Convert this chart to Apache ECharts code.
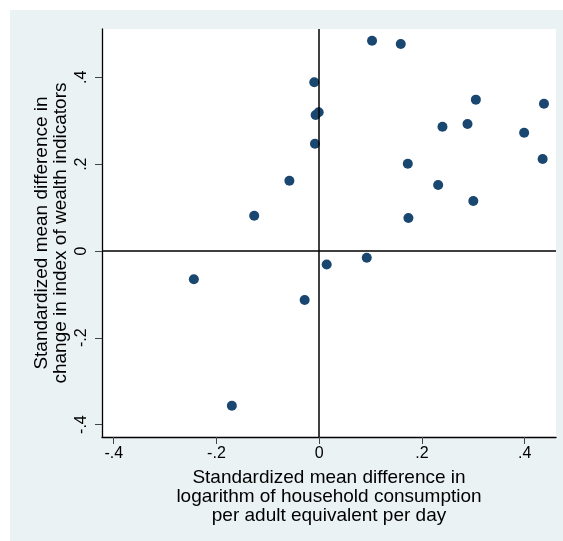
<!DOCTYPE html>
<html>
<head>
<meta charset="utf-8">
<script src="https://cdn.jsdelivr.net/npm/echarts@6/dist/echarts.min.js"></script>
<style>
html,body{margin:0;padding:0;background:#ffffff;}
#chart{width:563px;height:541px;}
</style>
</head>
<body>
<div id="chart"></div>
<script>
// Data
var xValues = [-0.0096, -0.0069, -0.0010, -0.0082, -0.0580, -0.1265, 0.0146, 0.1029, 0.1588, 0.3050, 0.4376, 0.2400, 0.2887, 0.3990, 0.4350, 0.1725, 0.2316, 0.3000, 0.1737, 0.0926, -0.2440, -0.0283, -0.1700];
var yValues = [0.389, 0.3134, 0.3195, 0.247, 0.162, 0.081, -0.031, 0.4846, 0.477, 0.3487, 0.3394, 0.2864, 0.2926, 0.2726, 0.212, 0.2012, 0.152, 0.115, 0.076, -0.0154, -0.0653, -0.113, -0.3564];
var xTicks = [-0.4, -0.2, 0, 0.2, 0.4];
var yTicks = [-0.4, -0.2, 0, 0.2, 0.4];
var xTitle = "Standardized mean difference in\nlogarithm of household consumption\nper adult equivalent per day";
var yTitle = "Standardized mean difference in\nchange in index of wealth indicators";

function stataFmt(v) {
  var r = Math.round(v * 10) / 10;
  if (r === 0) return "0";
  var s = String(r);
  return s.replace("0.", ".");
}

var points = xValues.map(function (x, i) { return [x, yValues[i]]; });
var FONT = '"Liberation Sans", Arial, sans-serif';

var chart = echarts.init(document.getElementById('chart'), null, {renderer: 'canvas'});
chart.setOption({
  backgroundColor: 'transparent',
  animation: false,
  graphic: [{
    type: 'rect', z: -100, silent: true,
    shape: {x: 10, y: 10, width: 553, height: 531},
    style: {fill: '#EAF2F3'}
  }],
  grid: {
    left: 102, top: 29, right: 7, bottom: 104,
    show: true, backgroundColor: '#ffffff', borderWidth: 0
  },
  xAxis: {
    type: 'value',
    min: -0.4228, max: 0.461,
    splitLine: {show: false},
    axisLine: {onZero: false, lineStyle: {color: '#000', width: 1.3}},
    axisTick: {show: true, length: 7, customValues: xTicks, lineStyle: {color: '#444', width: 1}},
    axisLabel: {customValues: xTicks, formatter: stataFmt, fontSize: 16, color: '#000', fontFamily: FONT, margin: 9},
    name: xTitle,
    nameLocation: 'middle',
    nameGap: 31,
    nameMoveOverlap: false,
    nameTextStyle: {fontSize: 19, lineHeight: 19, color: '#000', fontFamily: FONT, verticalAlign: 'top', align: 'center'}
  },
  yAxis: {
    type: 'value',
    min: -0.4286, max: 0.5115,
    splitLine: {show: false},
    axisLine: {onZero: false, lineStyle: {color: '#000', width: 1.3}},
    axisTick: {show: true, length: 7, customValues: yTicks, lineStyle: {color: '#444', width: 1}},
    axisLabel: {customValues: yTicks, formatter: stataFmt, rotate: 90, fontSize: 16, color: '#000', fontFamily: FONT, margin: 12},
    name: yTitle,
    nameLocation: 'middle',
    nameGap: 32,
    nameMoveOverlap: false,
    nameRotate: 90,
    nameTextStyle: {fontSize: 19, lineHeight: 19, color: '#000', fontFamily: FONT, align: 'center'}
  },
  series: [{
    type: 'scatter',
    data: points,
    symbol: 'circle',
    symbolSize: 10,
    itemStyle: {color: '#1a476f', opacity: 1},
    markLine: {
      silent: true,
      symbol: ['none', 'none'],
      label: {show: false},
      lineStyle: {color: '#000', width: 1.5, type: 'solid'},
      data: [{xAxis: 0}, {yAxis: 0}],
      animation: false
    },
    z: 3
  }]
});
</script>
</body>
</html>
